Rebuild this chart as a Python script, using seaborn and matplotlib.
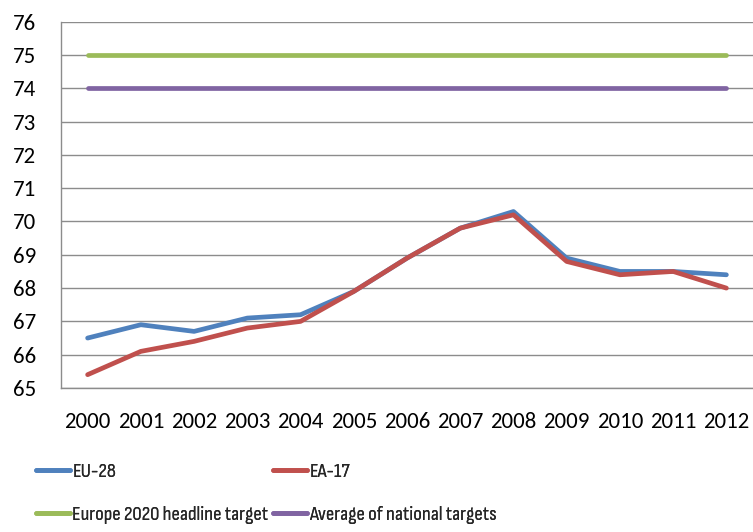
import matplotlib
matplotlib.use("Agg")
import matplotlib.pyplot as plt
import seaborn as sns
import pandas as pd
import numpy as np
from matplotlib.lines import Line2D
from matplotlib import font_manager

years = ["2000","2001","2002","2003","2004","2005","2006","2007","2008","2009","2010","2011","2012"]
eu28 = [66.5, 66.9, 66.7, 67.1, 67.2, 67.9, 68.9, 69.8, 70.3, 68.9, 68.5, 68.5, 68.4]
ea17 = [65.4, 66.1, 66.4, 66.8, 67.0, 67.9, 68.9, 69.8, 70.2, 68.8, 68.4, 68.5, 68.0]
headline = [75] * 13
national = [74] * 13

series_names = ["EU-28", "EA-17", "Europe 2020 headline target", "Average of national targets"]
colors = {"EU-28": "#4F81BD", "EA-17": "#C0504D",
          "Europe 2020 headline target": "#9BBB59",
          "Average of national targets": "#8064A2"}

rows = []
for name, vals in zip(series_names, [eu28, ea17, headline, national]):
    for i, v in enumerate(vals):
        rows.append({"idx": i, "year": years[i], "value": v, "series": name})
df = pd.DataFrame(rows)

sns.set_theme(style="white")
names = {f.name for f in font_manager.fontManager.ttflist}
main_family = next((f for f in ["Carlito", "Open Sans"] if f in names), "DejaVu Sans")
fs = 16.5 if main_family == "Carlito" else 15
plt.rcParams['font.family'] = [main_family, 'DejaVu Sans']

fig = plt.figure(figsize=(7.53, 5.32), dpi=100)
ax = fig.add_axes([61/753, (532-388)/532, 1 - 61/753, (388-21.7)/532])

for name in ["Europe 2020 headline target", "Average of national targets", "EU-28", "EA-17"]:
    sns.lineplot(data=df[df.series == name], x="idx", y="value", color=colors[name],
                 linewidth=3.4, ax=ax, legend=False, solid_capstyle="round",
                 solid_joinstyle="round")

ax.set_xlim(-0.5, 12.5)
ax.set_ylim(65, 76)
ax.set_yticks(range(65, 77))
ax.set_xticks(range(13))
ax.set_xticklabels(years)
ax.set_xlabel("")
ax.set_ylabel("")

ax.yaxis.grid(True, color="#8c8c8c", linewidth=1.0)
ax.set_axisbelow(True)
for s in ["top", "right"]:
    ax.spines[s].set_visible(False)
for s in ["left", "bottom"]:
    ax.spines[s].set_color("#8c8c8c")
    ax.spines[s].set_linewidth(1.0)

ax.set_xticks(np.arange(-0.5, 13, 1), minor=True)
ax.tick_params(axis="x", which="major", length=0, pad=17, labelsize=fs, colors="black")
ax.tick_params(axis="x", which="minor", length=6, width=1, color="#8c8c8c", direction="out")
ax.tick_params(axis="y", which="major", length=7, width=1, color="#8c8c8c", direction="out",
               pad=11, labelsize=fs, labelcolor="black")
for lbl in ax.get_xticklabels() + ax.get_yticklabels():
    lbl.set_color("black")

# choose a condensed legend face whose natural width is closest to the reference's
renderer = fig.canvas.get_renderer()
target_w = 196
cands = ["Roboto Condensed", "Asap Condensed", "Barlow Semi Condensed", "Fira Sans Condensed",
         "PT Sans Narrow", "Encode Sans Condensed", "IBM Plex Sans Condensed",
         "Sofia Sans Condensed", "Open Sans Condensed", "Archivo Narrow", "Barlow Condensed",
         main_family]
best = None
for fam in cands:
    if fam not in names:
        continue
    probe = fig.text(0, 0, "Europe 2020 headline target", family=[fam, 'DejaVu Sans'], size=fs)
    w = probe.get_window_extent(renderer).width
    probe.remove()
    score = abs(np.log(w / target_w))
    if best is None or score < best[0]:
        best = (score, fam, w)
leg_family = best[1]
leg_fs = fs * target_w / best[2]
leg_fs = min(leg_fs, fs * 1.1)

def entry(label, x_px, y_px):
    h = Line2D([0], [0], color=colors[label], linewidth=3.4, solid_capstyle="round")
    lg = fig.legend([h], [label], loc="center left",
                    bbox_to_anchor=(x_px/753, 1 - y_px/532),
                    frameon=False, prop={"family": [leg_family, 'DejaVu Sans'], "size": leg_fs},
                    handlelength=34/(leg_fs*100/72), handletextpad=2.5/(leg_fs*100/72),
                    borderpad=0, borderaxespad=0)
    fig.add_artist(lg)

entry("EU-28", 36, 472)
entry("Europe 2020 headline target", 36, 515)
entry("EA-17", 273, 472)
entry("Average of national targets", 273, 515)

fig.savefig("out.png", dpi=100)
